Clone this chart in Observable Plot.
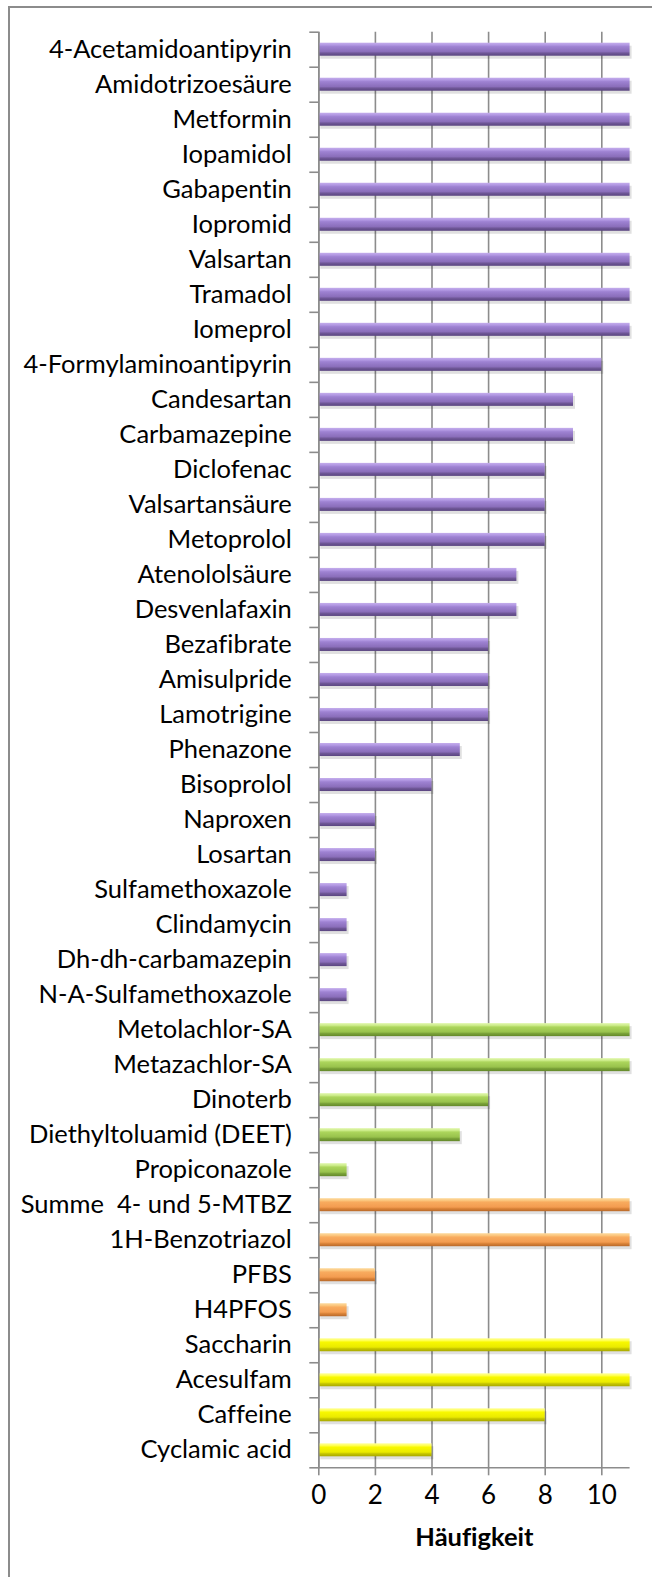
<!DOCTYPE html>
<html>
<head>
<meta charset="utf-8">
<script src="https://cdn.jsdelivr.net/npm/d3@7"></script>
<script src="https://cdn.jsdelivr.net/npm/@observablehq/plot@0.6"></script>
<style>
  body { margin: 0; background: #fff; }
  #wrap { position: relative; width: 652px; height: 1577px; overflow: hidden; }
  #frame { position: absolute; left: 8px; top: 6px; width: 700px; height: 1700px; border: 2px solid #8c8c8c; box-sizing: border-box; pointer-events: none; }
  svg { font-family: Lato, "Open Sans", sans-serif; font-variant-ligatures: none; }
  svg text { font-variant-ligatures: none; font-feature-settings: "liga" 0, "clig" 0; }
</style>
</head>
<body>
<div id="wrap"><div id="frame"></div></div>
<script>
const names = [
  "4-Acetamidoantipyrin", "Amidotrizoesäure", "Metformin", "Iopamidol", "Gabapentin",
  "Iopromid", "Valsartan", "Tramadol", "Iomeprol", "4-Formylaminoantipyrin",
  "Candesartan", "Carbamazepine", "Diclofenac", "Valsartansäure", "Metoprolol",
  "Atenololsäure", "Desvenlafaxin", "Bezafibrate", "Amisulpride", "Lamotrigine",
  "Phenazone", "Bisoprolol", "Naproxen", "Losartan", "Sulfamethoxazole",
  "Clindamycin", "Dh-dh-carbamazepin", "N-A-Sulfamethoxazole",
  "Metolachlor-SA", "Metazachlor-SA", "Dinoterb", "Diethyltoluamid (DEET)", "Propiconazole",
  "Summe  4- und 5-MTBZ", "1H-Benzotriazol", "PFBS", "H4PFOS",
  "Saccharin", "Acesulfam", "Caffeine", "Cyclamic acid"
];
const values = [
  11, 11, 11, 11, 11, 11, 11, 11, 11, 10,
  9, 9, 8, 8, 8, 7, 7, 6, 6, 6,
  5, 4, 2, 2, 1, 1, 1, 1,
  11, 11, 6, 5, 1,
  11, 11, 2, 1,
  11, 11, 8, 4
];
const groups = [
  ...Array(28).fill("purple"),
  ...Array(5).fill("green"),
  ...Array(4).fill("orange"),
  ...Array(4).fill("yellow")
];
const xTicks = [0, 2, 4, 6, 8, 10];
const xLabel = "Häufigkeit";

const data = names.map((name, i) => ({name, value: values[i], group: groups[i], i}));
const n = names.length;

const gradients = {
  purple: ["#c4adec", "#b197e2", "#9e82d2", "#8a6eba", "#6f5797", "#5a4580"],
  green:  ["#e2f7b0", "#cbeb88", "#acd55c", "#98c24c", "#7aa238", "#63882a"],
  orange: ["#fddba0", "#fbc57c", "#f8ab5e", "#f39c50", "#da8338", "#b8692a"],
  yellow: ["#ffffa0", "#ffff50", "#f8f800", "#eaea00", "#c6c600", "#a8a800"]
};

const barBase = {
  x1: 0,
  x2: "value",
  y1: d => d.i,
  y2: d => d.i + 1,
  insetTop: 11,
  insetBottom: 11
};

const marks = [
  Plot.ruleX(xTicks, {y1: 0, y2: n, stroke: "#8c8c8c", strokeWidth: 1.6}),
  Plot.rectX(data, {...barBase, fill: "#000", fillOpacity: 0.12, dx: 2, dy: 3}),
];
for (const g of Object.keys(gradients)) {
  marks.push(Plot.rectX(data.filter(d => d.group === g), {...barBase, fill: `url(#grad-${g})`}));
}
marks.push(
  Plot.axisY({ticks: d3.range(n + 1), tickSize: 9, tickFormat: () => "", stroke: "#8c8c8c", strokeWidth: 1.6}),
  Plot.axisY({
    ticks: d3.range(n).map(i => i + 0.5),
    tickFormat: v => names[Math.floor(v)],
    tickSize: 0, tickPadding: 27, fontSize: 25.5, fill: "#000"
  }),
  Plot.ruleY([n], {stroke: "#8c8c8c", strokeWidth: 1.6}),
  Plot.ruleX([0], {y1: 0, y2: n, stroke: "#8c8c8c", strokeWidth: 1.6}),
  Plot.axisX({ticks: xTicks, tickSize: 8, tickPadding: 10, fontSize: 26, stroke: "#8c8c8c", strokeWidth: 1.6, fill: "#000", label: null}),
  Plot.text([xLabel], {frameAnchor: "bottom", dy: 78, fontSize: 25.5, fontWeight: "bold", fill: "#000"})
);

const chart = Plot.plot({
  width: 652,
  height: 1577,
  marginTop: 31.7,
  marginBottom: 109.7,
  marginLeft: 318.3,
  marginRight: 22.4,
  x: {domain: [0, 11], axis: null},
  y: {type: "linear", domain: [n, 0], axis: null},
  style: {background: "transparent", overflow: "visible"},
  marks
});

const svg = d3.select(chart);
const defs = svg.insert("defs", ":first-child");
for (const [g, c] of Object.entries(gradients)) {
  const lg = defs.append("linearGradient").attr("id", `grad-${g}`).attr("x1", 0).attr("y1", 0).attr("x2", 0).attr("y2", 1);
  const stops = [[0, c[0]], [0.18, c[1]], [0.3, c[2]], [0.68, c[3]], [0.8, c[4]], [1, c[5]]];
  for (const [o, col] of stops) lg.append("stop").attr("offset", o).attr("stop-color", col);
}

document.getElementById("wrap").prepend(chart);
</script>
</body>
</html>
